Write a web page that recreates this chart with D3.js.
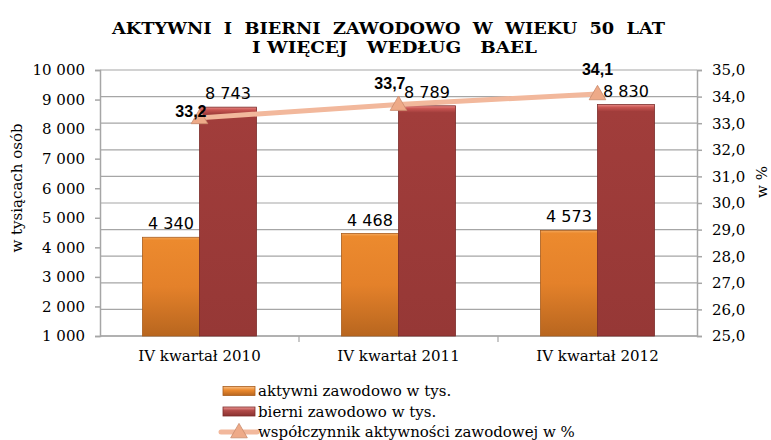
<!DOCTYPE html>
<html>
<head>
<meta charset="utf-8">
<script src="https://cdn.jsdelivr.net/npm/d3@7"></script>
<style>
  html,body{margin:0;padding:0;background:#fff;}
  svg text{fill:#000;}
</style>
</head>
<body>
<svg id="chart" width="771" height="440"></svg>
<script>
/* ===== Data ===== */
const categories = ['IV kwartał 2010','IV kwartał 2011','IV kwartał 2012'];
const aktywni = [4340, 4468, 4573];
const bierni = [8743, 8789, 8830];
const wspolczynnik = [33.2, 33.7, 34.1];
const leftTicks = [1000,2000,3000,4000,5000,6000,7000,8000,9000,10000];
const rightTicks = [25,26,27,28,29,30,31,32,33,34,35];
const seriesNames = ['aktywni zawodowo w tys.','bierni zawodowo w tys.','współczynnik aktywności zawodowej w %'];

/* ===== Helpers ===== */
const fmtInt = v => d3.format(',')(v).replace(/,/g,' ');
const fmtPct = v => d3.format('.1f')(v).replace('.',',');
const SERIF = '"DejaVu Serif",serif';

const svg = d3.select('#chart');
const m = {t:70, l:100, r:74, b:104};
const W = 771, H = 440;
const innerW = W-m.l-m.r, innerH = H-m.t-m.b;

/* gradients for bevelled bars */
const defs = svg.append('defs');
function grad(id, stops){
  const g = defs.append('linearGradient').attr('id',id).attr('x1',0).attr('x2',0).attr('y1',0).attr('y2',1);
  stops.forEach(([o,c]) => g.append('stop').attr('offset',o).attr('stop-color',c));
}
grad('gOrange', [[0,'#f7b070'],[0.012,'#f09a45'],[0.03,'#ec8a2e'],[0.5,'#e4812a'],[1,'#b8661f']]);
grad('gRed', [[0,'#e88a86'],[0.012,'#c85552'],[0.03,'#a13d3b'],[1,'#963836']]);
grad('gOrangeL', [[0,'#f8c088'],[0.4,'#ec8a2e'],[1,'#b8661f']]);
grad('gRedL', [[0,'#f09a98'],[0.4,'#b04a48'],[1,'#8a3230']]);

const g = svg.append('g').attr('transform',`translate(${m.l},${m.t})`);

/* ===== Scales ===== */
const x0 = d3.scaleBand().domain(categories).range([0,innerW]);
const y = d3.scaleLinear().domain([1000,10000]).range([innerH,0]);
const y2 = d3.scaleLinear().domain([25,35]).range([innerH,0]);
const barW = 57;

/* gridlines follow the secondary axis */
g.append('g').selectAll('line').data(rightTicks).enter().append('line')
  .attr('x1',0).attr('x2',innerW).attr('y1',d=>y2(d)).attr('y2',d=>y2(d))
  .attr('stroke','#a6a6a6').attr('stroke-width',1.2);

/* ===== Axes ===== */
const yA = g.append('g').call(d3.axisLeft(y).tickValues(leftTicks).tickFormat(fmtInt).tickSize(5).tickPadding(10));
const y2A = g.append('g').attr('transform',`translate(${innerW},0)`)
  .call(d3.axisRight(y2).tickValues(rightTicks).tickFormat(fmtPct).tickSize(5).tickPadding(10));
[yA,y2A].forEach(a=>{
  a.attr('font-family',null).attr('font-size',null);
  a.selectAll('.tick text').style('font-family',SERIF).style('font-size','15px').attr('fill','#000');
  a.select('.domain').attr('stroke','#a6a6a6').attr('stroke-width',1.5);
  a.selectAll('.tick line').attr('stroke','#a6a6a6').attr('stroke-width',1.5);
});

// bottom axis: ticks between categories
const xA = g.append('g').attr('transform',`translate(0,${innerH})`);
xA.append('line').attr('x1',0).attr('x2',innerW).attr('stroke','#a6a6a6').attr('stroke-width',1.5);
xA.selectAll('line.sep').data(categories.slice(1)).enter().append('line').attr('class','sep')
  .attr('x1',d=>x0(d)).attr('x2',d=>x0(d)).attr('y1',0).attr('y2',6)
  .attr('stroke','#a6a6a6').attr('stroke-width',1.2);
xA.selectAll('text').data(categories).enter().append('text')
  .attr('x',d=>x0(d)+x0.bandwidth()/2).attr('y',25).attr('text-anchor','middle')
  .style('font-family',SERIF).style('font-size','15px').text(d=>d);

/* ===== Bars ===== */
function bars(vals, dx, fill, edge){
  const grp = g.append('g');
  grp.selectAll('rect').data(vals).enter().append('rect')
    .attr('x',(d,i)=>x0(categories[i])+x0.bandwidth()/2+dx)
    .attr('y',d=>y(d)).attr('width',barW).attr('height',d=>innerH-y(d))
    .attr('fill',`url(#${fill})`).attr('stroke',edge).attr('stroke-width',0.8);
  grp.selectAll('text').data(vals).enter().append('text')
    .attr('x',(d,i)=>x0(categories[i])+x0.bandwidth()/2+dx+barW/2)
    .attr('y',d=>y(d)-8).attr('text-anchor','middle')
    .style('font-family','"DejaVu Sans",sans-serif').style('font-size','16px')
    .text(fmtInt);
}
bars(aktywni, -barW, 'gOrange', '#a95d1c');
bars(bierni, 0, 'gRed', '#7c2c2a');

/* ===== Line ===== */
const cx = i => x0(categories[i])+x0.bandwidth()/2;
g.append('path').datum(wspolczynnik)
  .attr('d', d3.line().x((d,i)=>cx(i)).y(d=>y2(d)))
  .attr('fill','none').attr('stroke','#f2b89c').attr('stroke-width',5).attr('stroke-linecap','round');
const tri = d3.symbol().type(d3.symbolTriangle).size(120);
g.selectAll('path.mk').data(wspolczynnik).enter().append('path').attr('class','mk')
  .attr('d',tri).attr('transform',(d,i)=>`translate(${cx(i)},${y2(d)+1})`)
  .attr('fill','#eeaa88').attr('stroke','#c98a6c').attr('stroke-width',0.8);

// label placement (Excel-style): [anchor, dx, dy]
const lineLabelPlace = [['end',7,-1],['end',7,-16],['middle',0,-19]];
g.selectAll('text.pl').data(wspolczynnik).enter().append('text').attr('class','pl')
  .attr('x',(d,i)=>cx(i)+lineLabelPlace[i][1]).attr('y',(d,i)=>y2(d)+lineLabelPlace[i][2])
  .attr('text-anchor',(d,i)=>lineLabelPlace[i][0])
  .style('font-family','"Liberation Sans",Arial,sans-serif').style('font-size','16px').style('font-weight','bold')
  .text(fmtPct);

/* ===== Titles ===== */
const title = svg.append('g').style('font-family',SERIF).style('font-weight','bold').style('font-size','16px');
title.append('text').attr('x',112).attr('y',34).attr('textLength',553).attr('lengthAdjust','spacingAndGlyphs')
  .attr('xml:space','preserve').text('AKTYWNI  I  BIERNI  ZAWODOWO  W  WIEKU  50  LAT');
title.append('text').attr('x',252).attr('y',53).attr('textLength',285).attr('lengthAdjust','spacingAndGlyphs')
  .attr('xml:space','preserve').text('I WIĘCEJ   WEDŁUG   BAEL');

svg.append('text').attr('transform','translate(22,188) rotate(-90)').attr('text-anchor','middle')
  .style('font-family',SERIF).style('font-size','15px').text('w tysiącach osób');
svg.append('text').attr('transform','translate(767,182) rotate(-90)').attr('text-anchor','middle')
  .style('font-family',SERIF).style('font-size','15px').text('w %');

/* ===== Legend ===== */
const lg = svg.append('g').attr('transform','translate(223,391)');
const swatches = ['gOrangeL','gRedL'];
const edges = ['#a95d1c','#7c2c2a'];
seriesNames.forEach((name,i)=>{
  const row = lg.append('g').attr('transform',`translate(0,${i*20.5})`);
  if(i<2){
    row.append('rect').attr('x',0).attr('y',-4.5).attr('width',32).attr('height',9)
      .attr('fill',`url(#${swatches[i]})`).attr('stroke',edges[i]).attr('stroke-width',0.8);
  } else {
    row.append('line').attr('x1',-2).attr('x2',34).attr('stroke','#f2b89c').attr('stroke-width',5).attr('stroke-linecap','round');
    row.append('path').attr('d',tri).attr('transform','translate(16,1)')
      .attr('fill','#eeaa88').attr('stroke','#c98a6c').attr('stroke-width',0.8);
  }
  row.append('text').attr('x',35).attr('y',5)
    .style('font-family',SERIF).style('font-size','15px').text(name);
});
</script>
</body>
</html>
